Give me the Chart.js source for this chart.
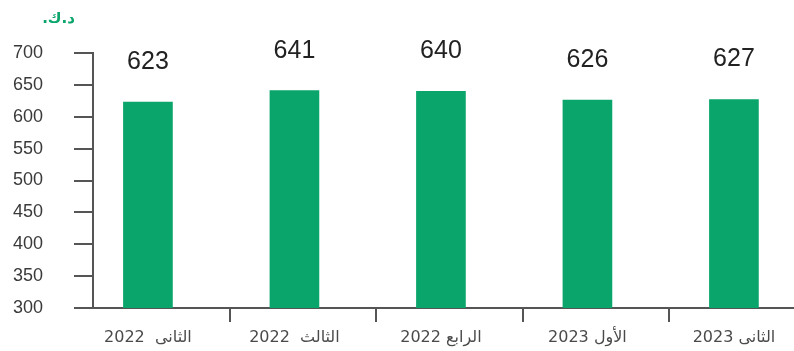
<!DOCTYPE html>
<html>
<head>
<meta charset="utf-8">
<script src="https://cdn.jsdelivr.net/npm/chart.js@4/dist/chart.umd.min.js"></script>
<style>
html,body{margin:0;padding:0;background:#fff;overflow:hidden;}
#wrap{width:794px;height:351px;position:relative;}
</style>
</head>
<body>
<div id="wrap"><canvas id="c" width="794" height="351"></canvas></div>
<script>
const categories = ["الثانى  2022", "الثالث  2022", "الرابع 2022", "الأول 2023", "الثانى 2023"];
const values = [623, 641, 640, 626, 627];
const yTicks = [300, 350, 400, 450, 500, 550, 600, 650, 700];
const unitLabel = "د.ك.";

const AXIS = '#555555';
const GREEN = '#0aa56b';
const SEP = 0.56; // separator tick offset after each category

const valueLabels = {
  id: 'valueLabels',
  afterDatasetsDraw(chart) {
    const ctx = chart.ctx;
    const meta = chart.getDatasetMeta(0);
    ctx.save();
    ctx.fillStyle = '#222';
    ctx.font = "25px 'Liberation Sans Narrow', 'Liberation Sans', Arial, sans-serif";
    ctx.textAlign = 'center';
    ctx.textBaseline = 'middle';
    meta.data.forEach((bar, i) => {
      ctx.fillText(String(values[i]), bar.x, bar.y - 40);
    });
    ctx.restore();
  }
};

const unitPlugin = {
  id: 'unitPlugin',
  afterDraw(chart) {
    const ctx = chart.ctx;
    const area = chart.chartArea;
    ctx.save();
    ctx.direction = 'rtl';
    ctx.fillStyle = GREEN;
    ctx.font = "bold 15px 'DejaVu Sans', sans-serif";
    ctx.textAlign = 'right';
    ctx.textBaseline = 'middle';
    ctx.fillText(unitLabel, area.left - 18, area.top - 34);
    ctx.restore();
  }
};

const isSep = v => Math.abs(v - Math.round(v)) > 0.25;

new Chart(document.getElementById('c'), {
  type: 'bar',
  data: {
    datasets: [{
      data: values.map((v, i) => ({ x: i, y: v })),
      backgroundColor: GREEN,
      borderWidth: 0,
      barThickness: 49
    }]
  },
  options: {
    responsive: false,
    animation: false,
    devicePixelRatio: 1,
    layout: { padding: { top: 53, right: 0, left: 0, bottom: 0 } },
    plugins: {
      legend: { display: false },
      tooltip: { enabled: false },
      title: { display: false }
    },
    scales: {
      x: {
        type: 'linear',
        min: -0.375,
        max: 4.41,
        offset: false,
        afterFit(s) { s.height = 43; },
        afterBuildTicks(s) {
          const t = [];
          for (let i = 0; i < categories.length; i++) {
            t.push({ value: i });
            if (i < categories.length - 1) t.push({ value: i + SEP });
          }
          s.ticks = t;
        },
        grid: {
          display: true,
          offset: false,
          drawOnChartArea: false,
          drawTicks: true,
          tickLength: 14,
          color: c => (c.tick && isSep(c.tick.value)) ? AXIS : 'rgba(0,0,0,0)',
          lineWidth: 2
        },
        border: { display: true, color: AXIS, width: 2 },
        ticks: {
          color: '#4a4a4a',
          padding: 6,
          maxRotation: 0,
          minRotation: 0,
          autoSkip: false,
          callback: v => isSep(v) ? '' : categories[Math.round(v)],
          font: { family: "'DejaVu Sans', sans-serif", size: 16 }
        }
      },
      y: {
        min: 300,
        max: 700,
        afterFit(s) { s.width = 93; },
        afterBuildTicks(s) { s.ticks = yTicks.map(v => ({ value: v })); },
        grid: {
          display: true,
          drawOnChartArea: false,
          drawTicks: true,
          tickLength: 19,
          color: AXIS,
          lineWidth: 2
        },
        border: { display: true, color: AXIS, width: 2 },
        ticks: {
          color: '#3a3a3a',
          padding: 31,
          font: { family: "'Liberation Sans', 'Open Sans', sans-serif", size: 18 }
        }
      }
    }
  },
  plugins: [valueLabels, unitPlugin]
});
</script>
</body>
</html>
